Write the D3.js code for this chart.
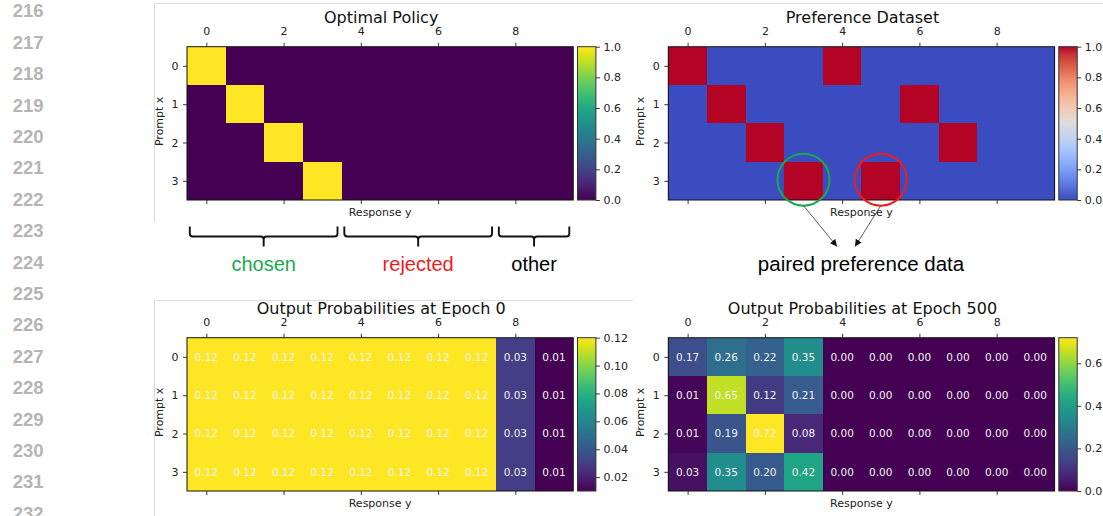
<!DOCTYPE html>
<html>
<head>
<meta charset="utf-8">
<script src="https://cdn.jsdelivr.net/npm/d3@7"></script>
<style>
  html, body { margin: 0; padding: 0; background: #fff; }
  svg { display: block; }
</style>
</head>
<body>
<svg id="chart" width="1103" height="516"></svg>
<script>
// ---------------- DATA ----------------
const responses = [0,1,2,3,4,5,6,7,8,9];
const prompts = [0,1,2,3];
const xTickValues = [0,2,4,6,8];
const lineNumbers = [216,217,218,219,220,221,222,223,224,225,226,227,228,229,230,231,232];

const optimalPolicy = [
  [1,0,0,0,0,0,0,0,0,0],
  [0,1,0,0,0,0,0,0,0,0],
  [0,0,1,0,0,0,0,0,0,0],
  [0,0,0,1,0,0,0,0,0,0]
];
const preferenceDataset = [
  [1,0,0,0,1,0,0,0,0,0],
  [0,1,0,0,0,0,1,0,0,0],
  [0,0,1,0,0,0,0,1,0,0],
  [0,0,0,1,0,1,0,0,0,0]
];
const epoch0Probs = [
  [0.12,0.12,0.12,0.12,0.12,0.12,0.12,0.12,0.03,0.01],
  [0.12,0.12,0.12,0.12,0.12,0.12,0.12,0.12,0.03,0.01],
  [0.12,0.12,0.12,0.12,0.12,0.12,0.12,0.12,0.03,0.01],
  [0.12,0.12,0.12,0.12,0.12,0.12,0.12,0.12,0.03,0.01]
];
const epoch500Probs = [
  [0.17,0.26,0.22,0.35,0.00,0.00,0.00,0.00,0.00,0.00],
  [0.01,0.65,0.12,0.21,0.00,0.00,0.00,0.00,0.00,0.00],
  [0.01,0.19,0.72,0.08,0.00,0.00,0.00,0.00,0.00,0.00],
  [0.03,0.35,0.20,0.42,0.00,0.00,0.00,0.00,0.00,0.00]
];
const cbTicksUnit = [0,0.2,0.4,0.6,0.8,1.0];
const cbTicksEpoch0 = [0.02,0.04,0.06,0.08,0.10,0.12];
const cbTicksEpoch500 = [0,0.2,0.4,0.6];

const responseGroups = [
  {label:"chosen",   from:0, to:3, color:"#19a94e"},
  {label:"rejected", from:4, to:7, color:"#ee1b1f"},
  {label:"other",    from:8, to:9, color:"#000000"}
];
const pairedCells = [ {row:3, col:3, color:"#19a94e"}, {row:3, col:5, color:"#ee1b1f"} ];
const pairedLabel = "paired preference data";

// ---------------- COLORMAPS ----------------
const viridis = d3.interpolateViridis;
const coolwarmScale = d3.scaleLinear()
  .domain([0,0.125,0.25,0.375,0.5,0.625,0.75,0.875,1])
  .range(["#3b4cc0","#6282ea","#8db0fe","#b9d0f9","#dddcdc","#f5c4ac","#f49a7b","#dc5d4a","#b40426"])
  .interpolate(d3.interpolateLab);
const coolwarm = t => coolwarmScale(t);

// ---------------- LAYOUT ----------------
const svg = d3.select("#chart");
const FONT = "DejaVu Sans";
const PW = 386.3, PH = 153.3;

// light panel borders
const border = svg.append("g").attr("stroke","#dcdcdc").attr("stroke-width",1).attr("fill","none");
border.append("line").attr("x1",154.5).attr("x2",1103).attr("y1",3.5).attr("y2",3.5);
border.append("line").attr("x1",154.5).attr("x2",154.5).attr("y1",3.5).attr("y2",222);
border.append("line").attr("x1",154.5).attr("x2",633).attr("y1",300.5).attr("y2",300.5);
border.append("line").attr("x1",154.5).attr("x2",154.5).attr("y1",300.5).attr("y2",516);

// line numbers
svg.append("g").selectAll("text").data(lineNumbers).join("text")
  .attr("x", 43.5).attr("y", (d,i) => 17.3 + i*31.4)
  .attr("text-anchor","end")
  .attr("font-family","Liberation Sans, Arial, sans-serif")
  .attr("font-weight","bold")
  .attr("font-size","18.5px")
  .attr("fill","#b5b5b5")
  .text(d => d);

const defs = svg.append("defs");

function drawHeatmap(cfg) {
  const g = svg.append("g");
  const x = d3.scaleLinear().domain([-0.5, responses.length - 0.5]).range([cfg.left, cfg.left + PW]);
  const y = d3.scaleLinear().domain([-0.5, prompts.length - 0.5]).range([cfg.top, cfg.top + PH]);
  const ext = cfg.domain || d3.extent(cfg.data.flat());
  const norm = d3.scaleLinear().domain(ext).range([0,1]).clamp(true);
  const color = v => cfg.cmap(norm(v));

  const cells = [];
  cfg.data.forEach((row, i) => row.forEach((v, j) => cells.push({i, j, v})));

  g.append("g").attr("shape-rendering","crispEdges").selectAll("rect").data(cells).join("rect")
    .attr("x", d => x(d.j - 0.5))
    .attr("y", d => y(d.i - 0.5))
    .attr("width", d => x(d.j + 0.5) - x(d.j - 0.5))
    .attr("height", d => y(d.i + 0.5) - y(d.i - 0.5))
    .attr("fill", d => color(d.v));

  if (cfg.annotate) {
    g.append("g").selectAll("text").data(cells).join("text")
      .attr("x", d => x(d.j))
      .attr("y", d => y(d.i))
      .attr("dy","0.36em")
      .attr("text-anchor","middle")
      .attr("font-family", FONT)
      .attr("font-size","10.5px")
      .attr("fill","#f2f2f2")
      .text(d => d3.format(".2f")(d.v));
  }

  // frame
  g.append("rect").attr("x", cfg.left).attr("y", cfg.top).attr("width", PW).attr("height", PH)
    .attr("fill","none").attr("stroke","#111").attr("stroke-width",1);

  const styleAxis = sel => {
    sel.select(".domain").remove();
    sel.selectAll(".tick line").attr("stroke","#222").attr("stroke-width",0.9);
    sel.selectAll(".tick text").attr("fill","#222").attr("font-family",FONT).attr("font-size","11px");
  };

  g.append("g").attr("transform",`translate(0,${cfg.top})`)
    .call(d3.axisTop(x).tickValues(xTickValues).tickFormat(d3.format("d")).tickSize(4).tickPadding(7.5))
    .call(styleAxis);
  g.append("g").attr("transform",`translate(0,${cfg.top + PH})`)
    .call(d3.axisBottom(x).tickValues(xTickValues).tickFormat("").tickSize(4))
    .call(styleAxis);
  g.append("g").attr("transform",`translate(${cfg.left},0)`)
    .call(d3.axisLeft(y).tickValues(prompts).tickFormat(d3.format("d")).tickSize(4).tickPadding(4.5))
    .call(styleAxis);

  // title and labels
  g.append("text").attr("x", cfg.left + PW/2 + 1).attr("y", cfg.top - 23.5)
    .attr("text-anchor","middle").attr("font-family",FONT).attr("font-size","16px").attr("fill","#111")
    .text(cfg.title);
  g.append("text").attr("x", cfg.left + PW/2).attr("y", cfg.top + PH + 16)
    .attr("text-anchor","middle").attr("font-family",FONT).attr("font-size","11px").attr("fill","#222")
    .text("Response y");
  g.append("text")
    .attr("transform",`translate(${cfg.left - 24.5},${cfg.top + PH/2 - 2}) rotate(-90)`)
    .attr("text-anchor","middle").attr("font-family",FONT).attr("font-size","11px").attr("fill","#222")
    .text("Prompt x");

  // colorbar
  const cbX = cfg.left + PW + 4.2, cbW = 18.4;
  const gid = "grad-" + cfg.id;
  const grad = defs.append("linearGradient").attr("id", gid)
    .attr("x1","0").attr("y1","1").attr("x2","0").attr("y2","0");
  d3.range(0, 1.0001, 0.05).forEach(t => {
    grad.append("stop").attr("offset", t).attr("stop-color", cfg.cmap(t));
  });
  g.append("rect").attr("x", cbX).attr("y", cfg.top).attr("width", cbW).attr("height", PH)
    .attr("fill", `url(#${gid})`).attr("stroke","#333").attr("stroke-width",1);
  const cbScale = d3.scaleLinear().domain(ext).range([cfg.top + PH, cfg.top]);
  g.append("g").attr("transform",`translate(${cbX + cbW},0)`)
    .call(d3.axisRight(cbScale).tickValues(cfg.cbTicks).tickFormat(d3.format(cfg.cbFmt)).tickSize(4).tickPadding(3.5))
    .call(styleAxis);

  return {x, y};
}

const pOpt = drawHeatmap({id:"opt", left:187, top:46.7, data:optimalPolicy, cmap:viridis, domain:[0,1],
  cbTicks:cbTicksUnit, cbFmt:".1f", title:"Optimal Policy", annotate:false});
const pPref = drawHeatmap({id:"pref", left:668.3, top:46.7, data:preferenceDataset, cmap:coolwarm, domain:[0,1],
  cbTicks:cbTicksUnit, cbFmt:".1f", title:"Preference Dataset", annotate:false});
drawHeatmap({id:"e0", left:187, top:337.7, data:epoch0Probs, cmap:viridis,
  cbTicks:cbTicksEpoch0, cbFmt:".2f", title:"Output Probabilities at Epoch 0", annotate:true});
drawHeatmap({id:"e500", left:668.3, top:337.7, data:epoch500Probs, cmap:viridis,
  cbTicks:cbTicksEpoch500, cbFmt:".1f", title:"Output Probabilities at Epoch 500", annotate:true});

// ---------------- ANNOTATIONS ----------------
const ann = svg.append("g");
const yTop = 226.5, yMid = 236.5, yBot = 246.5, r = 3;
responseGroups.forEach(gr => {
  const x1 = pOpt.x(gr.from - 0.5) + 2.8, x2 = pOpt.x(gr.to + 0.5) - 4;
  const xc = (x1 + x2) / 2;
  const p = `M${x1},${yTop} L${x1},${yMid - r} Q${x1},${yMid} ${x1 + r},${yMid} L${xc - r},${yMid} Q${xc},${yMid} ${xc},${yMid + r} L${xc},${yBot}` +
            ` M${xc},${yMid + r} Q${xc},${yMid} ${xc + r},${yMid} L${x2 - r},${yMid} Q${x2},${yMid} ${x2},${yMid - r} L${x2},${yTop}`;
  ann.append("path").attr("d", p).attr("fill","none").attr("stroke","#111").attr("stroke-width",1.9);
  ann.append("text").attr("x", xc).attr("y", 271)
    .attr("text-anchor","middle").attr("font-family","Liberation Sans, Arial, sans-serif")
    .attr("font-size","20px").attr("fill", gr.color).text(gr.label);
});

defs.append("marker").attr("id","arrowhead").attr("viewBox","0 0 10 10")
  .attr("refX",10).attr("refY",5).attr("markerWidth",7).attr("markerHeight",7)
  .attr("markerUnits","userSpaceOnUse").attr("orient","auto")
  .append("path").attr("d","M0,0 L10,5 L0,10 z").attr("fill","#111");

const circR = 26;
const labelX = 861;
const tipOffsets = [-24, -6];
pairedCells.forEach((c, k) => {
  const cx = pPref.x(c.col), cy = pPref.y(c.row) - 1.2;
  ann.append("circle").attr("cx", cx).attr("cy", cy).attr("r", circR)
    .attr("fill","none").attr("stroke", c.color).attr("stroke-width",2);
  ann.append("line").attr("x1", cx).attr("y1", cy + circR)
    .attr("x2", labelX + tipOffsets[k]).attr("y2", 246.5)
    .attr("stroke","#333").attr("stroke-width",0.8).attr("marker-end","url(#arrowhead)");
});
ann.append("text").attr("x", labelX).attr("y", 271)
  .attr("text-anchor","middle").attr("font-family","Liberation Sans, Arial, sans-serif")
  .attr("font-size","20.5px").attr("fill","#000").text(pairedLabel);
</script>
</body>
</html>
